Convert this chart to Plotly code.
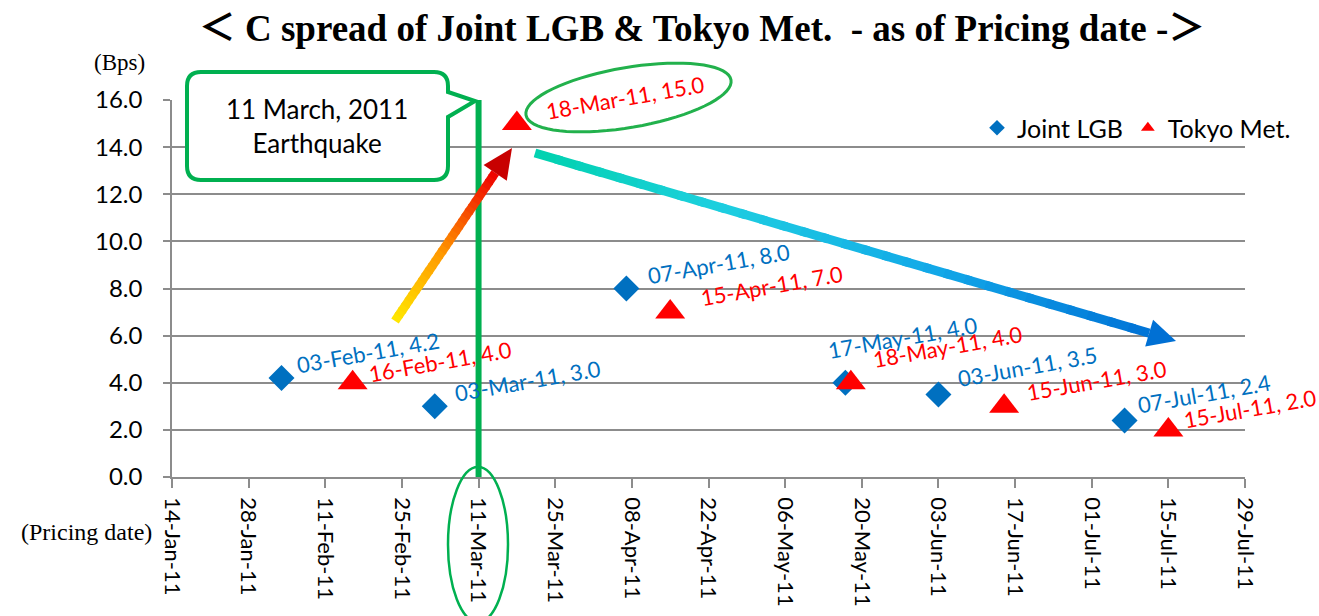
import numpy as np
import pandas as pd
import plotly.graph_objects as go

# ---------------- data ----------------
series_names = ["Joint LGB", "Tokyo Met."]
lgb_dates = ["2011-02-03", "2011-03-03", "2011-04-07", "2011-05-17", "2011-06-03", "2011-07-07"]
lgb_spread = [4.2, 3.0, 8.0, 4.0, 3.5, 2.4]
tokyo_dates = ["2011-02-16", "2011-03-18", "2011-04-15", "2011-05-18", "2011-06-15", "2011-07-15"]
tokyo_spread = [4.0, 15.0, 7.0, 4.0, 3.0, 2.0]
y_ticks = [0, 2, 4, 6, 8, 10, 12, 14, 16]
x_first_tick = "2011-01-14"
x_last_tick = "2011-07-29"
tick_step_days = 14
earthquake_date = "2011-03-11"
title_text = "＜ C spread of Joint LGB &amp; Tokyo Met.\u00a0\u00a0- as of Pricing date -＞"
callout_text = "11 March, 2011<br>Earthquake"

# label offsets (pixels) for data labels: (xshift, yshift)
lgb_label_shift = [(11, -3), (16, -3), (17, -3), (-22, 17), (15, 0), (9, 0)]
tokyo_label_shift = [(12, -7), (25, -3), (26, -2), (18, 8), (18, -2), (11, -6)]

BLUE = "#0070C0"
RED = "#FF0000"
GREEN = "#00B050"
GRID = "#8C8C8C"
FONT = "Lato"
SERIF = "Liberation Serif, Noto Sans CJK JP"

# plot area in pixels
W_PX, H_PX = 1319, 616
L, R, T, B = 172, 1245, 100, 477
PW, PH = R - L, B - T


def px(x):
    return (x - L) / PW


def py(y):
    return (B - y) / PH


tick_dates = pd.date_range(x_first_tick, x_last_tick, freq=f"{tick_step_days}D")

fig = go.Figure()
fig.add_trace(go.Scatter(
    x=pd.to_datetime(lgb_dates), y=lgb_spread, mode="markers", name=series_names[0],
    marker=dict(symbol="diamond", size=20, color=BLUE)))
fig.add_trace(go.Scatter(
    x=pd.to_datetime(tokyo_dates), y=tokyo_spread, mode="markers", name=series_names[1],
    marker=dict(symbol="triangle-up", size=26, color=RED)))

annotations = []
for dates, vals, shifts, col in [(lgb_dates, lgb_spread, lgb_label_shift, BLUE),
                                 (tokyo_dates, tokyo_spread, tokyo_label_shift, RED)]:
    for d, v, (sx, sy) in zip(dates, vals, shifts):
        dt = pd.Timestamp(d)
        annotations.append(dict(
            x=dt, y=v, xref="x", yref="y", text=f"{dt:%d-%b-%y}, {v:.1f}",
            showarrow=False, textangle=-10, xanchor="left", yanchor="bottom",
            xshift=sx, yshift=sy, font=dict(family=FONT, size=22, color=col)))

# axis captions
annotations.append(dict(x=px(119), y=py(63), xref="paper", yref="paper", text="(Bps)",
                        xanchor="center", yanchor="middle",
                        showarrow=False, font=dict(family=SERIF, size=23, color="black")))
annotations.append(dict(x=px(86), y=py(532), xref="paper", yref="paper", text="(Pricing date)",
                        xanchor="center", yanchor="middle",
                        showarrow=False, font=dict(family=SERIF, size=24, color="black")))
# callout text
annotations.append(dict(x=px(317), y=py(126), xref="paper", yref="paper", text=callout_text,
                        xanchor="center", yanchor="middle",
                        showarrow=False, align="center",
                        font=dict(family=FONT, size=26, color="black")))

shapes = []
# earthquake vertical line
shapes.append(dict(type="line", xref="x", yref="y", x0=earthquake_date, x1=earthquake_date,
                   y0=0, y1=16, line=dict(color=GREEN, width=6), layer="above"))


def path_from(points, close=True):
    s = ""
    for cmd, pts in points:
        s += cmd + " " + " ".join(f"{px(a):.5f},{py(b):.5f}" for a, b in pts) + " "
    if close:
        s += "Z"
    return s


# callout box
bl, bt, br, bb, rr = 187, 72, 448, 180, 14
callout = [
    ("M", [(bl + rr, bt)]), ("L", [(br - rr, bt)]), ("Q", [(br, bt), (br, bt + rr)]),
    ("L", [(br, 92)]), ("L", [(475, 101)]), ("L", [(br, 117)]),
    ("L", [(br, bb - rr)]), ("Q", [(br, bb), (br - rr, bb)]),
    ("L", [(bl + rr, bb)]), ("Q", [(bl, bb), (bl, bb - rr)]),
    ("L", [(bl, bt + rr)]), ("Q", [(bl, bt), (bl + rr, bt)]),
]
shapes.append(dict(type="path", xref="paper", yref="paper", path=path_from(callout),
                   fillcolor="white", line=dict(color=GREEN, width=4), layer="above"))

# ellipse around the 18-Mar label
cx, cy, ea, eb, ang = 628.5, 97.5, 104, 30, np.deg2rad(-9.7)
t = np.linspace(0, 2 * np.pi, 73)
ex = cx + ea * np.cos(t) * np.cos(ang) - eb * np.sin(t) * np.sin(ang)
ey = cy + ea * np.cos(t) * np.sin(ang) + eb * np.sin(t) * np.cos(ang)
ell = [("M", [(ex[0], ey[0])])] + [("L", [(a, b)]) for a, b in zip(ex[1:], ey[1:])]
shapes.append(dict(type="path", xref="paper", yref="paper", path=path_from(ell),
                   line=dict(color="#22B14C", width=3), layer="above"))

# ellipse around the 11-Mar tick label
shapes.append(dict(type="circle", xref="paper", yref="paper", x0=px(448), x1=px(508),
                   y0=py(622), y1=py(467), line=dict(color=GREEN, width=2.5), layer="above"))


def hex2rgb(h):
    h = h.lstrip("#")
    return np.array([int(h[i:i + 2], 16) for i in (0, 2, 4)], dtype=float)


def grad_color(stops, f):
    for (f0, c0), (f1, c1) in zip(stops[:-1], stops[1:]):
        if f0 <= f <= f1:
            k = (f - f0) / (f1 - f0) if f1 > f0 else 0
            c = hex2rgb(c0) * (1 - k) + hex2rgb(c1) * k
            return "rgb(%d,%d,%d)" % tuple(c.round())
    return stops[-1][1]


def gradient_arrow(tail, tip, stops, head_color, width, head_len, head_half, n=30):
    tail = np.array(tail, float)
    tip = np.array(tip, float)
    d = tip - tail
    d /= np.hypot(*d)
    nrm = np.array([-d[1], d[0]])
    base = tip - head_len * d
    out = []
    for i in range(n):
        f0, f1 = i / n, (i + 1) / n
        p0 = tail + (base - tail) * f0
        p1 = tail + (base - tail) * min(1.0, f1 + 0.01)
        out.append(dict(type="line", xref="paper", yref="paper",
                        x0=px(p0[0]), y0=py(p0[1]), x1=px(p1[0]), y1=py(p1[1]),
                        line=dict(color=grad_color(stops, (f0 + f1) / 2), width=width),
                        layer="above"))
    c1 = base + head_half * nrm
    c2 = base - head_half * nrm
    head = [("M", [tuple(tip)]), ("L", [tuple(c1)]), ("L", [tuple(c2)])]
    out.append(dict(type="path", xref="paper", yref="paper", path=path_from(head),
                    fillcolor=head_color, line=dict(width=0), layer="above"))
    return out


shapes += gradient_arrow((395, 321), (512, 148),
                         [(0, "#FFE800"), (0.45, "#FF9A00"), (1, "#EE0000")],
                         "#C80000", 9, 30, 14)
shapes += gradient_arrow((535, 153), (1176, 341),
                         [(0, "#00D2AE"), (0.3, "#1ECFE0"), (0.65, "#12A8E8"), (1, "#0072D6")],
                         "#0070D4", 9, 28, 14)

fig.update_layout(
    width=W_PX, height=H_PX,
    margin=dict(l=L, r=W_PX - R, t=T, b=H_PX - B, autoexpand=False),
    paper_bgcolor="white", plot_bgcolor="white",
    title=dict(text=title_text, x=702 / W_PX, xref="container", xanchor="center",
               y=1 - 28 / H_PX, yref="container", yanchor="middle",
               font=dict(family=SERIF, size=37, color="black", weight="bold")),
    showlegend=True,
    legend=dict(orientation="h", x=px(977), y=py(128), xanchor="left", yanchor="middle",
                bgcolor="rgba(0,0,0,0)", font=dict(family=FONT, size=25, color="black"),
                itemsizing="constant", itemwidth=30),
    annotations=annotations, shapes=shapes,
    xaxis=dict(type="date", range=[x_first_tick, x_last_tick], tickvals=list(tick_dates),
               ticktext=[f"{d:%d-%b-%y}" for d in tick_dates], tickangle=90,
               showgrid=False, zeroline=False, showline=True, linecolor=GRID, linewidth=1.5,
               ticks="outside", ticklen=9, tickwidth=1.5, tickcolor=GRID,
               ticklabelstandoff=5, automargin=False,
               tickfont=dict(family=FONT, size=22, color="black")),
    yaxis=dict(range=[0, 16], tickvals=y_ticks, ticktext=[f"{v:.1f}" for v in y_ticks],
               showgrid=True, gridcolor=GRID, gridwidth=1.5, zeroline=False,
               showline=True, linecolor=GRID, linewidth=1.5,
               ticks="outside", ticklen=7, tickwidth=1.5, tickcolor=GRID,
               ticklabelstandoff=16, automargin=False,
               tickfont=dict(family=FONT, size=24, color="black")),
)

fig.write_html("out.html", config={"displayModeBar": False},
               post_script="document.body.style.margin='0px';")
